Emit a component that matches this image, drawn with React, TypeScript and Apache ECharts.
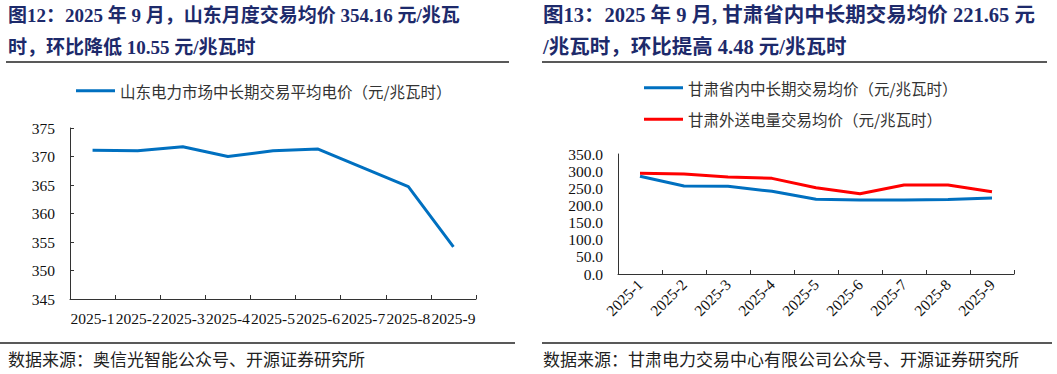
import React, { useEffect, useRef } from "react";
import * as echarts from "echarts";

const months = ["2025-1", "2025-2", "2025-3", "2025-4", "2025-5", "2025-6", "2025-7", "2025-8", "2025-9"];
const shandongPrice = [371.1, 371.0, 371.7, 370.0, 371.0, 371.3, 368.0, 364.71, 354.16];
const gansuInner = [284.9, 256.7, 255.7, 241.1, 217.8, 215.8, 215.8, 217.17, 221.65];
const gansuOutbound = [293.6, 291.7, 282.9, 279.0, 251.8, 234.3, 259.6, 259.6, 240.1];

const shandongName = "山东电力市场中长期交易平均电价（元/兆瓦时）";
const innerName = "甘肃省内中长期交易均价（元/兆瓦时）";
const outName = "甘肃外送电量交易均价（元/兆瓦时）";

const leftTitle = ["图12：2025 年 9 月，山东月度交易均价 354.16 元/兆瓦", "时，环比降低 10.55 元/兆瓦时"];
const rightTitle = ["图13：2025 年 9 月, 甘肃省内中长期交易均价 221.65 元", "/兆瓦时，环比提高 4.48 元/兆瓦时"];
const leftSource = "数据来源：奥信光智能公众号、开源证券研究所";
const rightSource = "数据来源：甘肃电力交易中心有限公司公众号、开源证券研究所";

const SERIF = "'Times New Roman', 'Liberation Serif', 'Noto Sans CJK SC', serif";
const CJK = "'Noto Sans CJK SC', sans-serif";
const TITLE_COLOR = "#1d2a6b";

export default function App() {
  const ref = useRef<HTMLDivElement>(null);
  useEffect(() => {
    if (!ref.current) return;
    const chart = echarts.init(ref.current, null, { renderer: "svg" });
    const axisLine = { show: true, lineStyle: { color: "#333", width: 1 } };
    const axisTick = { show: true, inside: true, length: 4, lineStyle: { color: "#333" } };
    const labelStyle = { fontFamily: SERIF, fontSize: 15.5, color: "#111" };
    const titleText = (x: number, y: number, text: string, size: number) => ({
      type: "text",
      x,
      y,
      style: {
        text,
        fontFamily: SERIF,
        fontWeight: "bold",
        fontSize: size,
        fill: TITLE_COLOR,
        textVerticalAlign: "middle",
      },
    });
    const rule = (x1: number, x2: number, y: number, w: number) => ({
      type: "line",
      shape: { x1, y1: y, x2, y2: y },
      style: { stroke: "#222", lineWidth: w },
    });
    const footer = (x: number, text: string) => ({
      type: "text",
      x,
      y: 358,
      style: { text, fontFamily: CJK, fontSize: 17, fill: "#222", textVerticalAlign: "middle" },
    });
    chart.setOption({
      animation: false,
      backgroundColor: "#fff",
      grid: [
        { left: 70, right: 581, top: 128, bottom: 75 },
        { left: 618, right: 43, top: 154, bottom: 100 },
      ],
      legend: [
        {
          data: [shandongName],
          left: 71,
          top: 78,
          icon: "rect",
          itemWidth: 39,
          itemHeight: 3,
          textStyle: { fontFamily: CJK, fontSize: 15.5, color: "#333" },
        },
        {
          data: [innerName, outName],
          orient: "vertical",
          left: 639,
          top: 75,
          itemGap: 16,
          icon: "rect",
          itemWidth: 39,
          itemHeight: 3,
          textStyle: { fontFamily: CJK, fontSize: 15.5, color: "#333" },
        },
      ],
      xAxis: [
        {
          type: "category",
          gridIndex: 0,
          data: months,
          boundaryGap: true,
          axisLine,
          axisTick,
          axisLabel: { ...labelStyle, interval: 0, margin: 12 },
        },
        {
          type: "category",
          gridIndex: 1,
          data: months,
          boundaryGap: true,
          axisLine,
          axisTick,
          axisLabel: { ...labelStyle, interval: 0, rotate: 45, margin: 8 },
        },
      ],
      yAxis: [
        {
          type: "value",
          gridIndex: 0,
          min: 345,
          max: 375,
          interval: 5,
          axisLine,
          axisTick,
          splitLine: { show: false },
          axisLabel: { ...labelStyle, margin: 15 },
        },
        {
          type: "value",
          gridIndex: 1,
          min: 0,
          max: 350,
          interval: 50,
          axisLine,
          axisTick: { show: false },
          splitLine: { show: false },
          axisLabel: { ...labelStyle, margin: 15, formatter: (v: number) => v.toFixed(1) },
        },
      ],
      series: [
        {
          name: shandongName,
          type: "line",
          xAxisIndex: 0,
          yAxisIndex: 0,
          data: shandongPrice,
          symbol: "none",
          color: "#0070C0",
          lineStyle: { width: 3, color: "#0070C0" },
        },
        {
          name: innerName,
          type: "line",
          xAxisIndex: 1,
          yAxisIndex: 1,
          data: gansuInner,
          symbol: "none",
          color: "#0070C0",
          lineStyle: { width: 3, color: "#0070C0" },
        },
        {
          name: outName,
          type: "line",
          xAxisIndex: 1,
          yAxisIndex: 1,
          data: gansuOutbound,
          symbol: "none",
          color: "#FF0000",
          lineStyle: { width: 3, color: "#FF0000" },
        },
      ],
      graphic: [
        titleText(8, 15, leftTitle[0], 19),
        titleText(8, 47, leftTitle[1], 19),
        titleText(543, 15, rightTitle[0], 20.5),
        titleText(543, 47, rightTitle[1], 20.5),
        rule(6, 509, 62, 1.5),
        rule(542, 1047, 62, 1.5),
        rule(0, 515, 343, 1.5),
        rule(542, 1052, 343, 1.5),
        footer(8, leftSource),
        footer(543, rightSource),
      ],
    });
    return () => chart.dispose();
  }, []);
  return <div ref={ref} style={{ position: "absolute", left: 0, top: 0, width: 1057, height: 374 }} />;
}
